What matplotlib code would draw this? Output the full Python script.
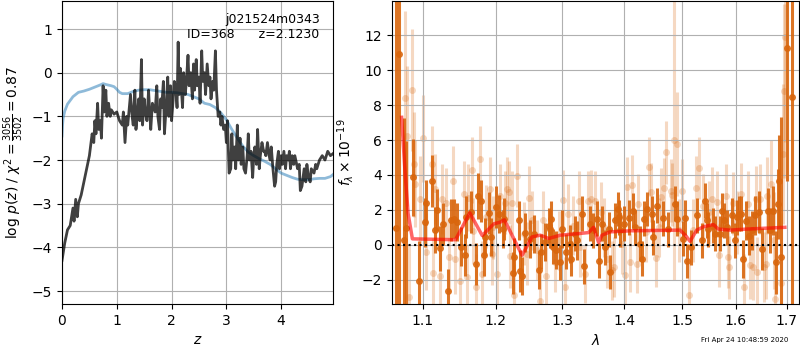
import numpy as np
import matplotlib
matplotlib.use('Agg')
import matplotlib.pyplot as plt
from matplotlib.ticker import FixedLocator, FixedFormatter, NullLocator

# redshift grid and log p(z) (dark) / smooth prior (blue)
zgrid = [0.0, 0.05, 0.1, 0.15, 0.2, 0.22, 0.25, 0.28, 0.3, 0.35, 0.4, 0.45, 0.5, 0.52,
         0.55, 0.58, 0.6, 0.62, 0.65, 0.67, 0.7, 0.72, 0.75, 0.77, 0.8, 0.82, 0.85, 0.88,
         0.9, 0.95, 1.0, 1.05, 1.1, 1.12, 1.15, 1.18, 1.2, 1.25, 1.28, 1.3, 1.33, 1.35,
         1.38, 1.4, 1.42, 1.45, 1.47, 1.5, 1.52, 1.55, 1.58, 1.6, 1.62, 1.65, 1.7, 1.73,
         1.75, 1.78, 1.8, 1.82, 1.85, 1.87, 1.9, 1.93, 1.95, 1.98, 2.0, 2.03, 2.05, 2.08,
         2.1, 2.12, 2.14, 2.16, 2.18, 2.2, 2.22, 2.25, 2.27, 2.3, 2.32, 2.35, 2.38, 2.4,
         2.42, 2.45, 2.47, 2.5, 2.52, 2.55, 2.57, 2.6, 2.62, 2.65, 2.68, 2.7, 2.72, 2.75,
         2.77, 2.8, 2.82, 2.85, 2.88, 2.9, 2.92, 2.95, 2.98, 3.0, 3.02, 3.05, 3.08, 3.1,
         3.12, 3.15, 3.17, 3.2, 3.22, 3.25, 3.27, 3.3, 3.32, 3.35, 3.38, 3.4, 3.42, 3.45,
         3.48, 3.5, 3.52, 3.55, 3.57, 3.6, 3.62, 3.65, 3.68, 3.7, 3.72, 3.75, 3.78, 3.8,
         3.82, 3.85, 3.88, 3.9, 3.92, 3.95, 3.97, 4.0, 4.02, 4.05, 4.08, 4.1, 4.13, 4.15,
         4.17, 4.2, 4.23, 4.25, 4.3, 4.33, 4.35, 4.38, 4.4, 4.42, 4.45, 4.47, 4.5, 4.53,
         4.55, 4.6, 4.63, 4.65, 4.7, 4.75, 4.8, 4.85, 4.9, 4.95]
logpz = [-4.3, -3.9, -3.6, -3.5, -3.1, -3.4, -2.9, -3.3, -3.0, -2.8, -2.5, -2.2, -1.9, -1.7,
         -1.4, -1.6, -1.1, -1.4, -0.7, -1.3, -1.1, -1.5, -0.3, -0.9, -0.4, -1.0, -0.7, -1.0,
         -0.85, -0.95, -0.9, -1.1, -1.2, -0.9, -1.6, -1.0, -1.2, -0.5, -1.0, -1.2, -0.4, -1.3,
         -0.9, -0.6, -1.1, 0.3, -1.2, -0.6, -0.9, -1.1, -0.4, -0.9, -1.3, -0.7, -0.9, -0.3,
         -1.0, -1.3, -0.6, -0.8, -0.2, -1.4, -0.8, -0.1, -1.0, -0.3, -1.1, -0.6, -0.2, -0.4,
         -0.8, 0.7, -0.5, 0.1, -0.4, -0.8, 0.0, -0.5, -0.2, 0.4, -0.3, 0.0, -0.6, 0.2,
         -0.4, 0.3, -0.3, -0.1, -0.7, 0.5, -0.2, 0.0, -0.5, 0.2, -0.3, -0.1, -0.6, -0.2,
         -0.4, 0.5, -0.4, -1.0, -0.9, -1.2, -1.0, -1.3, -1.2, -1.6, -1.1, -2.3, -2.2, -1.4,
         -2.0, -1.7, -2.2, -1.2, -2.0, -1.5, -2.1, -1.7, -2.2, -2.3, -1.9, -1.4, -2.0, -1.8,
         -2.4, -1.9, -1.7, -2.1, -1.3, -2.2, -1.9, -1.6, -1.8, -1.8, -1.9, -1.6, -1.9, -2.0,
         -1.7, -2.2, -2.6, -2.5, -2.1, -1.8, -2.2, -1.9, -2.1, -1.8, -2.2, -1.9, -2.0, -1.8,
         -2.2, -1.9, -2.1, -1.9, -2.2, -2.1, -2.7, -2.6, -2.4, -2.2, -2.5, -2.1, -2.4, -2.5,
         -2.2, -2.3, -2.1, -2.2, -2.0, -1.9, -2.0, -1.8, -1.9, -1.85]

zprior = [0.0, 0.01, 0.02, 0.05, 0.1, 0.2, 0.3, 0.4, 0.5, 0.6, 0.7, 0.75, 0.8, 0.9, 0.95, 1.0,
          1.05, 1.1, 1.2, 1.3, 1.4, 1.5, 1.6, 1.7, 1.8, 1.9, 2.0, 2.1, 2.2, 2.3, 2.4, 2.5,
          2.6, 2.7, 2.8, 2.9, 3.0, 3.1, 3.2, 3.3, 3.4, 3.5, 3.6, 3.7, 3.8, 3.9, 4.0, 4.1,
          4.2, 4.3, 4.4, 4.5, 4.6, 4.7, 4.8, 4.9, 4.95]
logprior = [-1.45, -1.2, -1.05, -0.88, -0.72, -0.55, -0.45, -0.42, -0.38, -0.33, -0.28, -0.25,
            -0.27, -0.3, -0.32, -0.38, -0.45, -0.48, -0.48, -0.43, -0.4, -0.39, -0.39,
            -0.41, -0.43, -0.45, -0.45, -0.46, -0.48, -0.5, -0.55, -0.6, -0.7, -0.73,
            -0.8, -0.92, -1.08, -1.3, -1.5, -1.68, -1.82, -1.9, -1.97, -2.03, -2.1, -2.2,
            -2.3, -2.35, -2.4, -2.44, -2.45, -2.45, -2.43, -2.42, -2.42, -2.38, -2.33]

# spectrum: dark points
wave_d = [1.0647, 1.0690, 1.0753, 1.0783, 1.0870, 1.0948, 1.1027, 1.1044, 1.1124, 1.1159,
          1.1190, 1.1226, 1.1266, 1.1334, 1.1370, 1.1415, 1.1461, 1.1507, 1.1562, 1.1576,
          1.1645, 1.1715, 1.1748, 1.1795, 1.1832, 1.1846, 1.1903, 1.1935, 1.2012, 1.2046,
          1.2103, 1.2117, 1.2254, 1.2264, 1.2337, 1.2362, 1.2386, 1.2436, 1.2511, 1.2570,
          1.2635, 1.2675, 1.2736, 1.2787, 1.2813, 1.2828, 1.2853, 1.2904, 1.2956, 1.2993,
          1.3055, 1.3112, 1.3138, 1.3191, 1.3228, 1.3307, 1.3334, 1.3429, 1.3483, 1.3548,
          1.3586, 1.3629, 1.3683, 1.3738, 1.3766, 1.3848, 1.3887, 1.3903, 1.3931, 1.3986,
          1.4070, 1.4154, 1.4183, 1.4267, 1.4307, 1.4336, 1.4393, 1.4479, 1.4496, 1.4565,
          1.4659, 1.4759, 1.4877, 1.4918, 1.5026, 1.5055, 1.5097, 1.5157, 1.5279, 1.5358,
          1.5419, 1.5450, 1.5481, 1.5562, 1.5605, 1.5698, 1.5730, 1.5774, 1.5837, 1.5919,
          1.5982, 1.6014, 1.6058, 1.6096, 1.6141, 1.6187, 1.6252, 1.6303, 1.6368, 1.6447,
          1.6499, 1.6631, 1.6664, 1.6730, 1.6797, 1.6831, 1.6851, 1.6898, 1.7012, 1.7115]
flux_d = [0.97, 10.95, 0.25, 0.97, 3.86, -2.1, 1.3, 2.42, 3.67, 0.85,
          2.0, -0.2, 1.2, -2.67, 1.4, 1.5, 1.3, -0.1, -0.57, 1.6,
          1.87, -1.1, 2.8, 2.5, -0.6, 0.44, 1.8, 0.44, 2.15, 1.77,
          0.9, 1.5, -1.6, -0.7, 1.4, -1.5, -1.8, 0.7, 0.34, 0.63,
          -1.43, -0.4, 0.15, 1.1, 0.9, 1.5, -0.1, -0.3, -1.0, 0.9,
          -0.4, 0.05, -0.8, 0.63, 0.25, 1.77, -1.24, 1.2, 0.82, 1.5,
          -0.9, 1.2, -0.13, 0.9, -1.56, 1.4, 2.05, 1.58, 0.86, 1.2,
          1.54, 1.96, 1.0, 0.05, -0.8, 1.5, 2.05, 1.77, 0.44, 2.25,
          1.52, 0.9, 2.34, 1.5, 0.34, 1.54, -0.93, -0.13, 1.68, 0.25,
          2.53, 1.4, 0.9, 1.1, 0.63, 0.63, 1.96, 1.4, 1.0, 1.68,
          0.25, 1.58, 1.77, 1.77, -0.8, 1.39, 0.53, 0.82, 1.68, 1.87,
          -0.23, 1.96, 0.82, 1.96, -1.0, 2.34, 3.68, -0.7, 11.26, 8.44]
err_d = [15, 15, 7, 5, 2.2, 2.3, 1.4, 1.3, 1.5, 1.3,
         1.2, 1.3, 1.2, 1.3, 1.2, 1.1, 1.1, 1.1, 1.2, 1.2,
         1.2, 1.2, 1.3, 1.2, 1.2, 1.1, 1.2, 1.1, 1.2, 1.1,
         1.1, 1.2, 1.2, 1.1, 1.1, 1.2, 1.1, 1.1, 1.1, 1.1,
         1.1, 1.0, 1.1, 1.0, 1.1, 1.0, 1.0, 1.1, 1.0, 1.1,
         1.0, 1.1, 1.0, 1.0, 1.1, 1.0, 1.0, 1.0, 1.0, 1.0,
         1.0, 1.0, 1.0, 1.0, 1.0, 1.0, 1.0, 1.0, 1.0, 1.0,
         1.0, 1.0, 1.0, 1.0, 1.0, 1.0, 1.0, 1.0, 1.0, 1.0,
         1.0, 1.0, 1.0, 1.0, 1.0, 1.0, 1.0, 1.0, 1.0, 1.0,
         1.0, 1.0, 1.0, 1.0, 1.0, 1.0, 1.0, 1.0, 1.0, 1.0,
         1.0, 1.0, 1.0, 1.0, 1.1, 1.1, 1.1, 1.1, 1.1, 1.2,
         1.2, 1.3, 1.3, 1.4, 1.8, 2.0, 2.6, 8.0, 7.6, 15]

# spectrum: faint points
wave_l = [1.0766, 1.0796, 1.0817, 1.0852, 1.0883, 1.0892, 1.0961, 1.1000, 1.1035, 1.1124,
          1.1137, 1.1165, 1.1230, 1.1257, 1.1302, 1.1347, 1.1401, 1.1429, 1.1498, 1.1553,
          1.1599, 1.1608, 1.1668, 1.1682, 1.1724, 1.1771, 1.1809, 1.1856, 1.1917, 1.1951,
          1.1965, 1.2022, 1.2070, 1.2141, 1.2166, 1.2190, 1.2205, 1.2239, 1.2274, 1.2313,
          1.2411, 1.2461, 1.2486, 1.2535, 1.2610, 1.2660, 1.2701, 1.2751, 1.2889, 1.2941,
          1.3008, 1.3034, 1.3086, 1.3164, 1.3254, 1.3281, 1.3360, 1.3397, 1.3451, 1.3521,
          1.3613, 1.3656, 1.3710, 1.3793, 1.3821, 1.3958, 1.4014, 1.4042, 1.4098, 1.4126,
          1.4211, 1.4239, 1.4364, 1.4427, 1.4450, 1.4542, 1.4600, 1.4624, 1.4688, 1.4718,
          1.4800, 1.4817, 1.4859, 1.4906, 1.4954, 1.4996, 1.5133, 1.5206, 1.5255, 1.5315,
          1.5388, 1.5499, 1.5543, 1.5649, 1.5686, 1.5811, 1.5856, 1.5875, 1.5951, 1.6020,
          1.6090, 1.6150, 1.6226, 1.6271, 1.6336, 1.6381, 1.6414, 1.6467, 1.6546, 1.6578,
          1.6598, 1.6684, 1.6750, 1.6777, 1.6898, 1.6932, 1.6952, 1.6965]
flux_l = [8.4, 6.24, -3.0, 8.87, 4.6, 3.5, 2.6, 6.1, -0.4, 4.6,
          -1.6, 3.2, -1.8, 2.6, 2.4, -0.7, 3.67, -0.8, -2.1, 2.9,
          -1.85, 2.7, 4.3, 0.8, -2.4, 4.9, -1.7, 1.6, 3.2, -0.5,
          1.0, -1.7, 2.8, 2.4, 3.2, 3.0, -0.67, 2.4, -2.9, 3.96,
          0.63, -0.5, 2.7, 1.4, -0.3, -3.2, 1.4, -1.8, -1.0, 0.25,
          2.57, -2.4, 1.77, 1.1, 2.53, -0.13, -1.66, 2.53, 2.6, 2.5,
          1.87, 1.0, -0.8, -1.47, -1.28, 0.05, -1.75, 3.33, -1.0, 3.45,
          -1.08, 2.34, 0.72, 4.48, 3.0, -0.74, 1.0, 2.72, 3.26, 5.3,
          3.1, 2.86, 6.0, 5.77, 0.82, 3.1, -2.9, 0.82, 3.26, 4.4,
          2.25, 1.87, 2.63, 2.44, -0.6, 2.82, -0.7, -1.28, 2.38, 1.3,
          2.9, -2.4, 2.34, -1.18, -1.28, 2.63, -1.56, 2.63, -1.28, -1.1,
          2.82, 3.49, 0.25, -3.1, -2.2, 5.2, 8.8, 11.9]
err_l = [5, 4, 3, 3.5, 3, 2.5, 2.5, 2.5, 2.2, 2.2,
         2.0, 2.0, 2.0, 2.0, 2.0, 2.0, 2.0, 2.0, 2.0, 1.9,
         1.9, 1.9, 1.9, 1.9, 1.9, 1.9, 1.9, 1.8, 1.8, 1.8,
         1.8, 1.8, 1.8, 1.8, 1.8, 1.8, 1.8, 1.8, 1.8, 1.8,
         1.8, 1.8, 1.8, 1.7, 1.7, 1.7, 1.7, 1.7, 1.7, 1.7,
         1.7, 1.7, 1.7, 1.7, 1.7, 1.7, 1.7, 1.7, 1.7, 1.7,
         1.7, 1.7, 1.7, 1.7, 1.7, 1.7, 1.7, 1.7, 1.7, 1.7,
         1.7, 1.7, 1.7, 1.7, 1.7, 1.7, 1.7, 1.7, 1.7, 1.8,
         1.8, 1.8, 8.0, 3.0, 1.8, 1.8, 1.8, 1.8, 1.8, 1.8,
         1.8, 1.8, 1.8, 1.8, 1.8, 1.8, 1.8, 1.8, 1.8, 1.8,
         1.8, 1.9, 1.9, 1.9, 1.9, 1.9, 2.0, 2.0, 2.0, 2.0,
         2.2, 2.5, 2.8, 3.0, 4.0, 4.0, 5.0, 6.0]

# best-fit model
wave_m = [1.0723, 1.0762, 1.0806, 1.0862, 1.1438, 1.1635, 1.1809, 1.1974, 1.2069, 1.2127,
          1.2386, 1.2535, 1.2660, 1.2787, 1.2967, 1.3281, 1.3414, 1.3494, 1.3575, 1.3630,
          1.3765, 1.4099, 1.4965, 1.5073, 1.5146, 1.5267, 1.5389, 1.5574, 1.5668, 1.5887,
          1.6207, 1.6966]
flux_m = [7.3, 4.5, 1.8, 0.34, 0.29, 1.83, 0.53, 1.2, 1.3, 1.43,
          -0.6, 0.45, 0.55, 0.36, 0.55, 0.65, 0.7, 1.0, 0.13, 0.55,
          0.74, 0.8, 0.84, 0.5, 0.2, 0.84, 1.03, 1.16, 0.9, 0.84,
          0.9, 1.0]

wave_ticks = [1.1, 1.2, 1.3, 1.4, 1.5, 1.6, 1.7]

orange = (0.85, 0.40, 0.05)

fig = plt.figure(figsize=(8, 3.5), dpi=100)
ax1 = fig.add_axes([0.0775, 0.131, 0.339, 0.866])
ax2 = fig.add_axes([0.49, 0.131, 0.509, 0.866])

# p(z) panel
ax1.plot(zprior, logprior, color='tab:blue', alpha=0.5, lw=2)
ax1.plot(zgrid, logpz, color='k', alpha=0.75, lw=2)
ax1.set_xlim(0, 4.95)
ax1.set_ylim(-5.3, 1.64)
ax1.set_xticks([0, 1, 2, 3, 4])
ax1.set_yticks([-5, -4, -3, -2, -1, 0, 1])
ax1.grid()
ax1.set_xlabel(r'$z$')
ax1.set_ylabel(r'log $p(z)$ / $\chi^2=\frac{3056}{3502}=0.87$')
ax1.text(0.95, 0.96, 'j021524m0343\nID=368      z=2.1230', transform=ax1.transAxes,
         ha='right', va='top', fontsize=9)

# spectrum panel
ax2.errorbar(wave_l, flux_l, yerr=err_l, fmt='o', color=orange, alpha=0.25,
             ms=5, elinewidth=2.2, mec='none', zorder=1)
ax2.errorbar(wave_d, flux_d, yerr=err_d, fmt='o', color=orange, alpha=0.9,
             ms=5, elinewidth=2.2, mec='none', zorder=2)
ax2.plot(wave_m, flux_m, color='r', alpha=0.6, lw=2.5, zorder=3)
ax2.axhline(0, color='k', ls=':', lw=1.5, zorder=4)
ax2.set_xscale('log')
ax2.set_xlim(1.06, 1.726)
ax2.set_ylim(-3.4, 13.96)
ax2.xaxis.set_major_locator(FixedLocator(wave_ticks))
ax2.xaxis.set_major_formatter(FixedFormatter(['%.1f' % w for w in wave_ticks]))
ax2.xaxis.set_minor_locator(NullLocator())
ax2.set_yticks([-2, 0, 2, 4, 6, 8, 10, 12])
ax2.grid()
ax2.set_xlabel(r'$\lambda$')
ax2.set_ylabel(r'$f_\lambda\times10^{-19}$')

fig.text(0.985, 0.022, 'Fri Apr 24 10:48:59 2020', ha='right', fontsize=5)

fig.savefig('out.png', dpi=100)
